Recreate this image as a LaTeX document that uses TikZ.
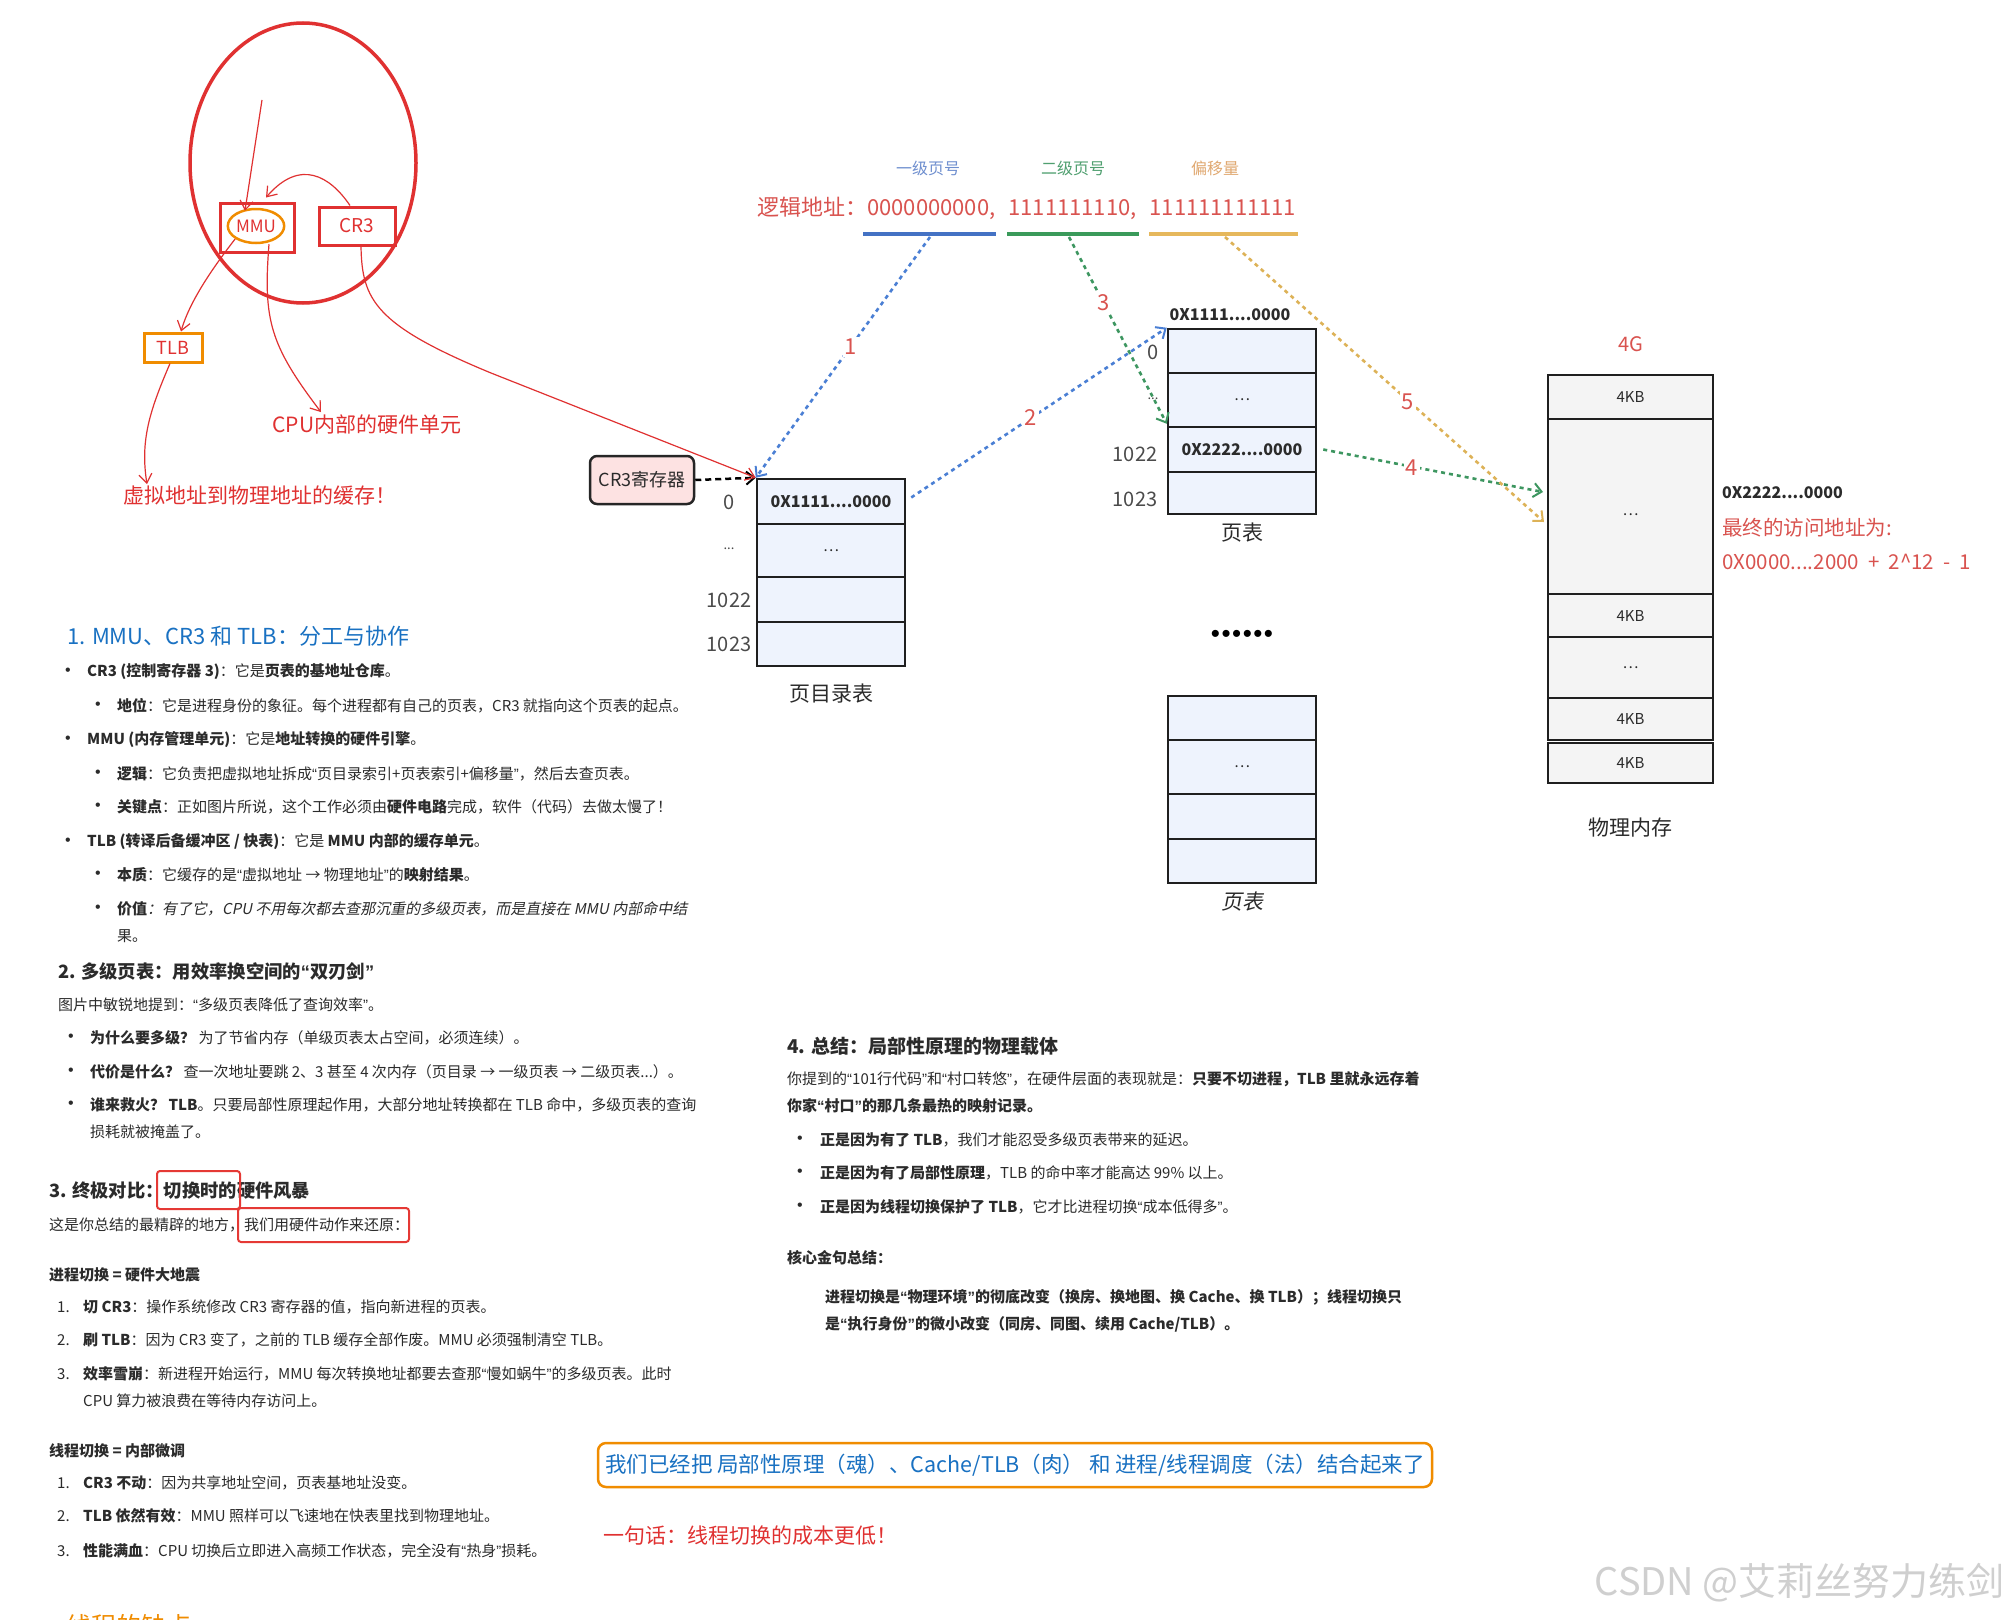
\documentclass[tikz,border=0pt]{standalone}
\usepackage{fontspec}
\setmainfont{Noto Sans CJK SC}[AutoFakeSlant=0.2]
\newfontfamily\lsans{Liberation Sans}
\newcommand\qo{{\lsans “}}
\newcommand\qc{{\lsans ”}}
\usetikzlibrary{arrows.meta,shapes.geometric}
\definecolor{hred}{HTML}{E03131}
\definecolor{horange}{HTML}{F08C00}
\definecolor{hblue}{HTML}{1971C2}
\definecolor{bodyc}{HTML}{2B2B2B}
\definecolor{cellblue}{HTML}{EEF3FD}
\definecolor{memgray}{HTML}{F4F4F4}
\definecolor{lred}{HTML}{D9534F}
\definecolor{dblue}{HTML}{4A7FD4}
\definecolor{dgreen}{HTML}{3D9660}
\definecolor{dyellow}{HTML}{DDB257}
\definecolor{lblue}{HTML}{6F8FCF}
\definecolor{lgreen}{HTML}{4F9F6F}
\definecolor{ltan}{HTML}{E0A870}
\definecolor{pinkfill}{HTML}{FDE2E2}
\definecolor{wmgray}{HTML}{CFCFCF}
\definecolor{boxred}{HTML}{E53935}
\definecolor{ulblue}{HTML}{4472C4}
\definecolor{ulgreen}{HTML}{3A9A5A}
\definecolor{ulyellow}{HTML}{E6B85C}
\begin{document}
\begin{tikzpicture}[x=1pt,y=-1pt,
  hand/.style={text=hred, font=\fontsize{21}{24}\selectfont, inner sep=0pt},
  body/.style={text=bodyc, font=\fontsize{15}{18}\selectfont, anchor=west, inner sep=0pt},
  bul/.style={text=bodyc, font=\fontsize{16}{18}\selectfont\lsans, anchor=center, inner sep=0pt},
  headl/.style={text=bodyc, font=\fontsize{18.3}{22}\selectfont\bfseries, anchor=west, inner sep=0pt},
  cellb/.style={draw=black!88, line width=2.5pt, fill=cellblue, minimum width=148pt, inner sep=0pt, font=\fontsize{16}{18}\selectfont\bfseries, text=bodyc},
  memc/.style={draw=black!88, line width=2.5pt, fill=memgray, minimum width=165pt, inner sep=0pt, font=\fontsize{15}{18}\selectfont, text=bodyc},
  rowl/.style={text=bodyc!85, font=\fontsize{20}{24}\selectfont, inner sep=0pt},
  redarrow/.style={draw=hred, line width=1.2pt, -{Straight Barb[length=9pt,width=13pt]}},
  dotl/.style={line width=2.6pt, dash pattern=on 4pt off 4pt, -{Straight Barb[length=8pt,width=14pt,line width=2pt]}},
  numl/.style={text=lred, font=\fontsize{22}{24}\selectfont, fill=white, inner sep=2pt},
  capl/.style={text=bodyc, font=\fontsize{21}{24}\selectfont, inner sep=0pt},
  ell/.style={font=\fontsize{15}{18}\selectfont\mdseries}
]
\useasboundingbox[fill=white] (0,0) rectangle (2015,1619);

% ---------------- CPU sketch ----------------
\node[draw=hred, ellipse, line width=3.5pt, minimum width=226pt, minimum height=280pt] (cpu) at (303,163) {};
\node[draw=hred, line width=3pt, minimum width=74pt, minimum height=49pt] (mmubox) at (257,227.5) {};
\node[draw=horange, ellipse, line width=2.5pt, minimum width=56pt, minimum height=34pt, inner sep=0pt, text=hred, font=\fontsize{17}{20}\selectfont] (mmuell) at (256,226) {MMU};
\node[draw=hred, line width=3pt, minimum width=76pt, minimum height=38pt, text=hred, font=\fontsize{19}{20}\selectfont] (cr3) at (357,226) {CR3};
\node[draw=horange, line width=3pt, minimum width=58pt, minimum height=29pt, inner sep=0pt, text=hred, font=\fontsize{18}{20}\selectfont] (tlb) at (173,347.5) {TLB};
\node[hand] (cpuunit) at (367,424) {CPU内部的硬件单元};
\node[hand] (vtext) at (260,496) {虚拟地址到物理地址的缓存！};
\coordinate (in0) at (262,100);
\draw[redarrow] (in0) -- ([xshift=-11pt,yshift=-3pt]mmuell.north);
\draw[redarrow] ([xshift=-7pt]cr3.north) .. controls (330,176) and (300,158) .. ([xshift=9pt,yshift=4pt]mmubox.north);
\draw[redarrow] (mmuell.south west) .. controls (215,265) and (190,300) .. ([xshift=8pt]tlb.north);
\draw[redarrow] ([xshift=13pt]mmuell.south) .. controls (263,320) and (270,345) .. ([xshift=-46pt,yshift=2pt]cpuunit.north);
\draw[redarrow] ([xshift=-3pt]tlb.south) .. controls (150,410) and (140,440) .. ([xshift=-113pt,yshift=2pt]vtext.north);

% ---------------- page directory ----------------
\node[cellb, minimum height=45pt] (d0) at (831,501.5) {0X1111....0000};
\node[cellb, minimum height=53pt, ell] (d1) at (831,550.5) {…};
\node[cellb, minimum height=45pt] (d2) at (831,599.5) {};
\node[cellb, minimum height=44pt] (d3) at (831,644) {};
\node[rowl] (dl0) at (729,502) {0};
\node[rowl, font=\fontsize{13}{16}\selectfont] (dl1) at (729,549) {...};
\node[rowl] (dl2) at (729,600) {1022};
\node[rowl] (dl3) at (729,644) {1023};
\node[capl] (dcap) at (831,694) {页目录表};

\node[draw=black!85, line width=2.5pt, fill=pinkfill, rounded corners=7pt, minimum width=104pt, minimum height=48pt, text=bodyc, font=\fontsize{18}{20}\selectfont] (cr3reg) at (642,480) {CR3寄存器};
\draw[line width=2.5pt, dash pattern=on 6pt off 4pt, -{Straight Barb[length=8pt,width=13pt,line width=2pt]}] (cr3reg.east) -- (d0.north west);
\draw[redarrow] ([xshift=4pt]cr3.south) .. controls (362,300) and (375,325) .. (491,373) -- (d0.north west);

% ---------------- logical address ----------------
\node[text=lblue, font=\fontsize{16}{18}\selectfont] (lab1) at (928,168) {一级页号};
\node[text=lgreen, font=\fontsize{16}{18}\selectfont] (lab2) at (1073,168) {二级页号};
\node[text=ltan, font=\fontsize{16}{18}\selectfont] (lab3) at (1215,168) {偏移量};
\node[text=lred, font=\fontsize{22}{26}\selectfont, anchor=west, inner sep=0pt] (laddr) at (757,208) {逻辑地址：0000000000,\hspace{13pt}1111111110,\hspace{13pt}111111111111};
\coordinate (u1a) at (863,234); \coordinate (u1b) at (996,234);
\coordinate (u2a) at (1007,234); \coordinate (u2b) at (1139,234);
\coordinate (u3a) at (1149,234); \coordinate (u3b) at (1298,234);
\draw[ulblue, line width=3.5pt] (u1a) -- (u1b);
\draw[ulgreen, line width=3.5pt] (u2a) -- (u2b);
\draw[ulyellow, line width=3.5pt] (u3a) -- (u3b);
\coordinate (s1) at (930,237);
\coordinate (s3) at (1069,237);
\coordinate (s5) at (1225,237);

% ---------------- page table (upper) ----------------
\node[cellb, minimum height=44pt] (p0) at (1242,351) {};
\node[cellb, minimum height=54pt, ell] (p1) at (1242,400) {…};
\node[cellb, minimum height=45pt] (p2) at (1242,449.5) {0X2222....0000};
\node[cellb, minimum height=42pt] (p3) at (1242,493) {};
\node[text=bodyc, font=\fontsize{16}{18}\selectfont\bfseries] (ptop) at (1230,315) {0X1111....0000};
\node[rowl] (pl0) at (1153,352) {0};
\node[rowl, font=\fontsize{13}{16}\selectfont] (pl1) at (1153,399) {...};
\node[rowl] (pl2) at (1135,454) {1022};
\node[rowl] (pl3) at (1135,499) {1023};
\node[capl] (pcap) at (1242,533) {页表};

\node[text=black, font=\fontsize{26}{28}\selectfont\lsans] (dots) at (1242,636) {•\hspace{1.5pt}•\hspace{1.5pt}•\hspace{1.5pt}•\hspace{1.5pt}•\hspace{1.5pt}•};

% ---------------- page table (lower) ----------------
\node[cellb, minimum height=44pt] (q0) at (1242,718) {};
\node[cellb, minimum height=54pt, ell] (q1) at (1242,767) {…};
\node[cellb, minimum height=45pt] (q2) at (1242,816.5) {};
\node[cellb, minimum height=44pt] (q3) at (1242,861) {};
\node[capl] (qcap) at (1242,902) {\itshape 页表};

% ---------------- physical memory ----------------
\node[text=lred, font=\fontsize{20}{24}\selectfont] (fourg) at (1631,344) {4G};
\node[memc, minimum height=44pt] (m0) at (1630.5,397) {4KB};
\node[memc, minimum height=175pt] (m1) at (1630.5,506.5) {\raisebox{-18pt}{…}};
\node[memc, minimum height=43pt] (m2) at (1630.5,615.5) {4KB};
\node[memc, minimum height=61pt] (m3) at (1630.5,667.5) {…};
\node[memc, minimum height=42pt] (m4) at (1630.5,719) {4KB};
\node[memc, minimum height=40pt] (m5) at (1630.5,763) {4KB};
\node[capl] (mcap) at (1630,828) {物理内存};
\node[text=bodyc, font=\fontsize{16}{18}\selectfont\bfseries, anchor=west, inner sep=0pt] (maddr) at (1722,493) {0X2222....0000};
\node[text=lred, font=\fontsize{20.5}{24}\selectfont, anchor=west, inner sep=0pt] (final1) at (1722,528) {最终的访问地址为:};
\node[text=lred, font=\fontsize{20.5}{24}\selectfont, anchor=west, inner sep=0pt] (final2) at (1722,562) {0X0000....2000\hspace{5pt} + \hspace{4pt}2\^{}12\hspace{5pt} - \hspace{4pt}1};
\coordinate (g4e) at (1543,492);
\coordinate (y5e) at (1544,522);

% ---------------- dotted connectors ----------------
\draw[dotl, dblue] (s1) -- (d0.north west);
\draw[dotl, dblue] ([xshift=5pt,yshift=4pt]d0.east) -- (p0.north west);
\draw[dotl, dgreen] (s3) -- ([yshift=2pt]p2.north west);
\draw[dotl, dgreen] ([xshift=6pt]p2.east) -- (g4e);
\draw[dotl, dyellow] (s5) -- (y5e);
\node[numl] (n1) at (851,347) {1};
\node[numl] (n2) at (1031,418) {2};
\node[numl] (n3) at (1104,303) {3};
\node[numl] (n4) at (1412,468) {4};
\node[numl] (n5) at (1408,402) {5};

% ---------------- section 1 ----------------
\node[text=hblue, font=\fontsize{22}{26}\selectfont, anchor=west, inner sep=0pt] (h1) at (67,636) {1. MMU、CR3 和 TLB：分工与协作};
\node[bul] (b1) at (68,672) {•};
\node[body] (t1) at (87,672) {\textbf{CR3 (控制寄存器 3)}：它是\textbf{页表的基地址仓库}。};
\node[bul] (b2) at (98,706) {•};
\node[body] (t2) at (117,706) {\textbf{地位}：它是进程身份的象征。每个进程都有自己的页表，CR3 就指向这个页表的起点。};
\node[bul] (b3) at (68,740) {•};
\node[body] (t3) at (87,740) {\textbf{MMU (内存管理单元)}：它是\textbf{地址转换的硬件引擎}。};
\node[bul] (b4) at (98,774) {•};
\node[body] (t4) at (117,774) {\textbf{逻辑}：它负责把虚拟地址拆成\qo{}页目录索引+页表索引+偏移量\qc{}，然后去查页表。};
\node[bul] (b5) at (98,807) {•};
\node[body] (t5) at (117,807) {\textbf{关键点}：正如图片所说，这个工作必须由\textbf{硬件电路}完成，软件（代码）去做太慢了！};
\node[bul] (b6) at (68,842) {•};
\node[body] (t6) at (87,842) {\textbf{TLB (转译后备缓冲区 / 快表)}：它是 \textbf{MMU 内部的缓存单元}。};
\node[bul] (b7) at (98,875) {•};
\node[body] (t7) at (117,875) {\textbf{本质}：它缓存的是\qo{}虚拟地址 → 物理地址\qc{}的\textbf{映射结果}。};
\node[bul] (b8) at (98,909) {•};
\node[body] (t8) at (117,909) {\itshape\textbf{价值}：有了它，CPU 不用每次都去查那沉重的多级页表，而是直接在 MMU 内部命中结};
\node[body] (t9) at (117,936) {果。};

% ---------------- section 2 ----------------
\node[headl] (h2) at (58,971) {2. 多级页表：用效率换空间的\qo{}双刃剑\qc{}};
\node[body] (t10) at (58,1005) {图片中敏锐地提到：\qo{}多级页表降低了查询效率\qc{}。};
\node[bul] (b11) at (71,1038) {•};
\node[body] (t11) at (90,1038) {\textbf{为什么要多级？} 为了节省内存（单级页表太占空间，必须连续）。};
\node[bul] (b12) at (71,1072) {•};
\node[body] (t12) at (90,1072) {\textbf{代价是什么？} 查一次地址要跳 2、3 甚至 4 次内存（页目录 → 一级页表 → 二级页表...）。};
\node[bul] (b13) at (71,1105) {•};
\node[body] (t13) at (90,1105) {\textbf{谁来救火？ TLB}。只要局部性原理起作用，大部分地址转换都在 TLB 命中，多级页表的查询};
\node[body] (t14) at (90,1132) {损耗就被掩盖了。};

% ---------------- section 3 ----------------
\node[headl] (h3) at (49,1191) {3. 终极对比：切换时的硬件风暴};
\node[body] (t15) at (49,1225) {这是你总结的最精辟的地方，我们用硬件动作来还原：};
\draw[boxred, line width=2pt, rounded corners=3pt] (157,1171) rectangle (240,1209);
\draw[boxred, line width=2pt, rounded corners=3pt] (238,1208) rectangle (409,1242);
\node[body] (t16) at (49,1275) {\textbf{进程切换 = 硬件大地震}};
\node[body] (n16a) at (57,1307) {1.};
\node[body] (t16a) at (83,1307) {\textbf{切 CR3}：操作系统修改 CR3 寄存器的值，指向新进程的页表。};
\node[body] (n16b) at (57,1340) {2.};
\node[body] (t16b) at (83,1340) {\textbf{刷 TLB}：因为 CR3 变了，之前的 TLB 缓存全部作废。MMU 必须强制清空 TLB。};
\node[body] (n16c) at (57,1374) {3.};
\node[body] (t16c) at (83,1374) {\textbf{效率雪崩}：新进程开始运行，MMU 每次转换地址都要去查那\qo{}慢如蜗牛\qc{}的多级页表。此时};
\node[body] (t16d) at (83,1401) {CPU 算力被浪费在等待内存访问上。};
\node[body] (t17) at (49,1451) {\textbf{线程切换 = 内部微调}};
\node[body] (n17a) at (57,1483) {1.};
\node[body] (t17a) at (83,1483) {\textbf{CR3 不动}：因为共享地址空间，页表基地址没变。};
\node[body] (n17b) at (57,1516) {2.};
\node[body] (t17b) at (83,1516) {\textbf{TLB 依然有效}：MMU 照样可以飞速地在快表里找到物理地址。};
\node[body] (n17c) at (57,1551) {3.};
\node[body] (t17c) at (83,1551) {\textbf{性能满血}：CPU 切换后立即进入高频工作状态，完全没有\qo{}热身\qc{}损耗。};
\node[text=horange, font=\fontsize{25}{28}\selectfont, anchor=west, inner sep=0pt] (cut) at (66,1626) {线程的缺点};

% ---------------- section 4 ----------------
\node[headl, font=\fontsize{19}{22}\selectfont\bfseries] (h4) at (787,1046) {4. 总结：局部性原理的物理载体};
\node[body] (t20) at (787,1079) {你提到的\qo{}101行代码\qc{}和\qo{}村口转悠\qc{}，在硬件层面的表现就是：\textbf{只要不切进程，TLB 里就永远存着}};
\node[body] (t21) at (787,1106) {\textbf{你家\qo{}村口\qc{}的那几条最热的映射记录。}};
\node[bul] (b22) at (800,1140) {•};
\node[body] (t22) at (820,1140) {\textbf{正是因为有了 TLB}，我们才能忍受多级页表带来的延迟。};
\node[bul] (b23) at (800,1173) {•};
\node[body] (t23) at (820,1173) {\textbf{正是因为有了局部性原理}，TLB 的命中率才能高达 99\% 以上。};
\node[bul] (b24) at (800,1207) {•};
\node[body] (t24) at (820,1207) {\textbf{正是因为线程切换保护了 TLB}，它才比进程切换\qo{}成本低得多\qc{}。};
\node[body] (t25) at (787,1258) {\textbf{核心金句总结：}};
\node[body] (t26) at (825,1297) {\textbf{进程切换是\qo{}物理环境\qc{}的彻底改变（换房、换地图、换 Cache、换 TLB）；线程切换只}};
\node[body] (t27) at (825,1324) {\textbf{是\qo{}执行身份\qc{}的微小改变（同房、同图、续用 Cache/TLB）。}};

% ---------------- summary box ----------------
\node[draw=horange, line width=2.5pt, rounded corners=8pt, minimum width=834pt, minimum height=44pt, text=hblue, font=\fontsize{21.5}{24}\selectfont] (sumbox) at (1015,1465) {我们已经把 局部性原理（魂）、Cache/TLB（肉） 和 进程/线程调度（法）结合起来了};
\node[hand, anchor=west, font=\fontsize{21}{24}\selectfont] (oneline) at (603,1536) {一句话：线程切换的成本更低！};

% ---------------- watermark ----------------
\node[text=wmgray, font=\fontsize{38}{42}\selectfont, anchor=east, inner sep=0pt] (wm) at (2005,1583) {CSDN @艾莉丝努力练剑};
\end{tikzpicture}
\end{document}
